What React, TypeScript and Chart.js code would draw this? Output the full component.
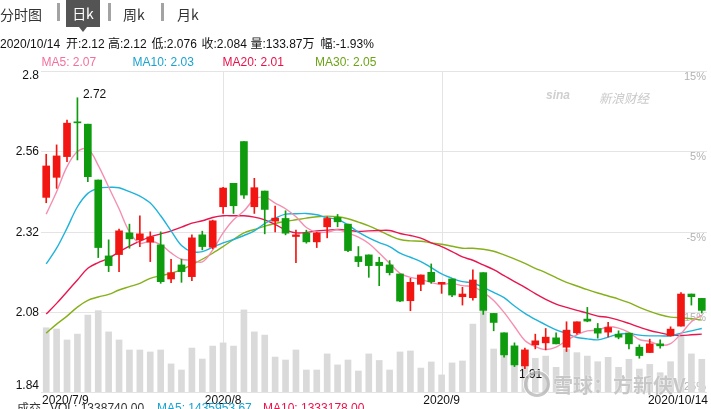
import React, { useEffect, useRef } from "react";
import { Chart, registerables } from "chart.js";

Chart.register(...registerables);

// ---------- data ----------
const dates: string[] = [
  "2020/7/9", "2020/7/10", "2020/7/13", "2020/7/14", "2020/7/15", "2020/7/16", "2020/7/17",
  "2020/7/20", "2020/7/21", "2020/7/22", "2020/7/23", "2020/7/24",
  "2020/7/27", "2020/7/28", "2020/7/29", "2020/7/30", "2020/7/31",
  "2020/8/3", "2020/8/4", "2020/8/5", "2020/8/6", "2020/8/7",
  "2020/8/10", "2020/8/11", "2020/8/12", "2020/8/13", "2020/8/14",
  "2020/8/17", "2020/8/18", "2020/8/19", "2020/8/20", "2020/8/21",
  "2020/8/24", "2020/8/25", "2020/8/26", "2020/8/27", "2020/8/28", "2020/8/31",
  "2020/9/1", "2020/9/2", "2020/9/3", "2020/9/4",
  "2020/9/7", "2020/9/8", "2020/9/9", "2020/9/10", "2020/9/11",
  "2020/9/14", "2020/9/15", "2020/9/16", "2020/9/17", "2020/9/18",
  "2020/9/21", "2020/9/22", "2020/9/23", "2020/9/24", "2020/9/25",
  "2020/9/28", "2020/9/29", "2020/9/30",
  "2020/10/9", "2020/10/12", "2020/10/13", "2020/10/14",
];

const opens: number[] = [
  2.422, 2.482, 2.544, 2.648, 2.641, 2.474, 2.247, 2.251,
  2.316, 2.295, 2.288, 2.280, 2.178, 2.220, 2.185, 2.310,
  2.273, 2.394, 2.464, 2.589, 2.394, 2.441, 2.351, 2.359,
  2.305, 2.315, 2.289, 2.334, 2.362, 2.342, 2.245, 2.250,
  2.228, 2.220, 2.193, 2.113, 2.162, 2.198, 2.163, 2.178,
  2.125, 2.122, 2.197, 2.075, 2.017, 1.978, 1.918, 1.981,
  1.987, 2.002, 1.974, 2.017, 2.058, 2.030, 2.019, 2.013,
  2.016, 1.974, 1.958, 1.984, 2.008, 2.037, 2.133, 2.120,
];

const highs: number[] = [
  2.551, 2.579, 2.653, 2.720, 2.641, 2.474, 2.295, 2.327,
  2.342, 2.367, 2.319, 2.319, 2.237, 2.237, 2.310, 2.321,
  2.354, 2.452, 2.464, 2.589, 2.479, 2.441, 2.396, 2.382,
  2.324, 2.324, 2.318, 2.364, 2.371, 2.342, 2.275, 2.250,
  2.243, 2.233, 2.193, 2.180, 2.190, 2.223, 2.168, 2.178,
  2.153, 2.205, 2.197, 2.075, 2.017, 1.987, 1.971, 2.013,
  2.030, 2.017, 2.050, 2.050, 2.093, 2.045, 2.048, 2.023,
  2.016, 1.981, 1.998, 1.996, 2.035, 2.137, 2.133, 2.120,
];

const lows: number[] = [
  2.406, 2.449, 2.529, 2.534, 2.469, 2.242, 2.200, 2.200,
  2.270, 2.275, 2.230, 2.165, 2.167, 2.168, 2.173, 2.265,
  2.268, 2.374, 2.374, 2.419, 2.374, 2.313, 2.319, 2.310,
  2.227, 2.285, 2.272, 2.301, 2.334, 2.260, 2.215, 2.183,
  2.158, 2.190, 2.110, 2.083, 2.143, 2.165, 2.135, 2.125,
  2.100, 2.115, 2.072, 2.023, 1.944, 1.916, 1.910, 1.969,
  1.966, 1.984, 1.961, 2.013, 2.050, 2.001, 2.005, 1.999,
  1.969, 1.941, 1.958, 1.971, 2.007, 2.037, 2.100, 2.076,
];

const closes: number[] = [
  2.516, 2.546, 2.644, 2.645, 2.484, 2.272, 2.218, 2.322,
  2.298, 2.313, 2.304, 2.170, 2.197, 2.200, 2.301, 2.275,
  2.352, 2.450, 2.397, 2.429, 2.451, 2.386, 2.360, 2.315,
  2.310, 2.289, 2.316, 2.359, 2.349, 2.263, 2.230, 2.218,
  2.218, 2.197, 2.112, 2.168, 2.190, 2.170, 2.168, 2.130,
  2.133, 2.175, 2.084, 2.048, 1.951, 1.921, 1.966, 1.993,
  2.004, 1.984, 2.025, 2.050, 2.052, 2.016, 2.033, 2.004,
  1.984, 1.949, 1.984, 1.978, 2.028, 2.133, 2.125, 2.084,
];

// volume in 万股
const volumes: number[] = [
  263, 258, 213, 237, 315, 333, 246, 213,
  172, 172, 164, 172, 115, 90, 180, 135,
  188, 201, 188, 336, 246, 233, 143, 131,
  172, 90, 90, 156, 111, 131, 86, 156,
  129, 90, 164, 168, 98, 123, 70, 119,
  127, 278, 332, 176, 151, 156, 134, 138,
  147, 101, 175, 161, 147, 124, 142, 101,
  134, 94, 113, 79, 124, 229, 156, 133.87,
];

const ma5: number[] = [
  2.372, 2.439, 2.514, 2.559, 2.567, 2.518, 2.453, 2.388,
  2.319, 2.285, 2.291, 2.281, 2.256, 2.237, 2.234, 2.229,
  2.265, 2.316, 2.355, 2.381, 2.416, 2.423, 2.405, 2.388,
  2.364, 2.332, 2.318, 2.318, 2.325, 2.315, 2.303, 2.284,
  2.256, 2.225, 2.195, 2.183, 2.177, 2.167, 2.162, 2.165,
  2.158, 2.155, 2.138, 2.114, 2.078, 2.036, 1.994, 1.976,
  1.967, 1.974, 1.994, 2.011, 2.023, 2.025, 2.035, 2.031,
  2.018, 1.997, 1.991, 1.980, 1.985, 2.014, 2.050, 2.070,
];

const ma10: number[] = [
  2.223, 2.270, 2.330, 2.394, 2.434, 2.449, 2.452, 2.451,
  2.439, 2.426, 2.405, 2.367, 2.322, 2.278, 2.260, 2.260,
  2.273, 2.286, 2.296, 2.308, 2.322, 2.344, 2.360, 2.372,
  2.373, 2.374, 2.370, 2.361, 2.356, 2.340, 2.318, 2.301,
  2.287, 2.275, 2.255, 2.243, 2.230, 2.212, 2.193, 2.180,
  2.170, 2.166, 2.153, 2.138, 2.122, 2.097, 2.075, 2.057,
  2.041, 2.026, 2.015, 2.003, 1.999, 1.996, 2.004, 2.013,
  2.015, 2.010, 2.008, 2.008, 2.008, 2.016, 2.023, 2.030,
];

const ma20: number[] = [
  2.073, 2.105, 2.140, 2.175, 2.210, 2.227, 2.240, 2.259,
  2.276, 2.291, 2.304, 2.313, 2.322, 2.333, 2.345, 2.352,
  2.362, 2.367, 2.367, 2.367, 2.363, 2.355, 2.341, 2.325,
  2.316, 2.317, 2.322, 2.324, 2.326, 2.324, 2.320, 2.322,
  2.323, 2.323, 2.314, 2.308, 2.300, 2.286, 2.275, 2.260,
  2.244, 2.234, 2.220, 2.206, 2.188, 2.170, 2.153, 2.134,
  2.117, 2.103, 2.093, 2.084, 2.076, 2.067, 2.063, 2.055,
  2.045, 2.034, 2.024, 2.017, 2.011, 2.009, 2.011, 2.013,
];

const ma30: number[] = [
  2.016, 2.043, 2.067, 2.094, 2.114, 2.124, 2.132, 2.145,
  2.155, 2.165, 2.180, 2.188, 2.195, 2.206, 2.221, 2.237,
  2.255, 2.275, 2.296, 2.316, 2.326, 2.336, 2.344, 2.350,
  2.355, 2.360, 2.364, 2.366, 2.364, 2.358, 2.348, 2.337,
  2.323, 2.308, 2.296, 2.292, 2.291, 2.286, 2.282, 2.276,
  2.270, 2.270, 2.267, 2.261, 2.250, 2.238, 2.225, 2.210,
  2.197, 2.182, 2.168, 2.157, 2.146, 2.136, 2.127, 2.118,
  2.107, 2.093, 2.081, 2.071, 2.064, 2.062, 2.059, 2.055,
];

const priceTicks: number[] = [2.8, 2.56, 2.32, 2.08, 1.84];
const priceTickLabels: string[] = ["2.8", "2.56", "2.32", "2.08", "1.84"];
const pctTickLabels: string[] = ["15%", "5%", "-5%", "-15%", "-25%"];
const monthLineDates: string[] = ["2020/8/3", "2020/9/1"];
const xLabelDates: string[] = ["2020/7/9", "2020/8/3", "2020/9/1", "2020/10/14"];
const xLabelTexts: string[] = ["2020/7/9", "2020/8", "2020/9", "2020/10/14"];
const volMax = 1314;

const infoItems: string[] = [
  "2020/10/14", "开:2.12", "高:2.12", "低:2.076", "收:2.084", "量:133.87万", "幅:-1.93%",
];
const infoX: number[] = [0, 66, 108, 151.5, 201.5, 250.5, 320.5];

const legendTexts: string[] = ["MA5: 2.07", "MA10: 2.03", "MA20: 2.01", "MA30: 2.05"];
const legendX: number[] = [41.5, 132.5, 222.5, 315];

const volLegendTexts: string[] = ["成交", "VOL: 1338740.00", "MA5: 1435953.67", "MA10: 1333178.00"];
const volLegendX: number[] = [17, 50, 157, 263];

// ---------- styles ----------
const UP = "#f21612";
const DOWN = "#0e9b0e";
const MA_COLORS = ["#f58fb0", "#1fb3da", "#e8164f", "#86b01a"];
const LEGEND_COLORS = ["#f3709c", "#1aa3cf", "#e8124a", "#6da316"];
const LATIN = "'Liberation Sans', Arial, 'Noto Sans CJK SC', sans-serif";
const CJK = "'Noto Sans CJK SC', 'Liberation Sans', sans-serif";

const decorPlugin = {
  id: "decor",
  beforeDatasetsDraw(chart: any) {
    const { ctx, chartArea: a, scales } = chart;
    const y = scales.y;
    const x = scales.x;
    ctx.save();
    ctx.strokeStyle = "#e4e4e4";
    ctx.lineWidth = 1;
    priceTicks.forEach((v) => {
      const py = Math.round(y.getPixelForValue(v)) + 0.5;
      ctx.beginPath();
      ctx.moveTo(a.left, py);
      ctx.lineTo(a.right, py);
      ctx.stroke();
    });
    monthLineDates.forEach((d) => {
      const px = Math.round(x.getPixelForValue(dates.indexOf(d))) + 0.5;
      ctx.beginPath();
      ctx.moveTo(px, a.top);
      ctx.lineTo(px, a.bottom);
      ctx.stroke();
    });
    // percentage labels on the right (behind marks)
    ctx.font = "11px " + LATIN;
    ctx.fillStyle = "#b2b2b2";
    ctx.textAlign = "right";
    ctx.textBaseline = "alphabetic";
    priceTicks.forEach((v, k) => {
      const py = y.getPixelForValue(v);
      const last = k === priceTicks.length - 1;
      ctx.fillText(pctTickLabels[k], a.right - 1, last ? py - 2 : py + 9);
    });
    ctx.restore();
  },
  afterDatasetsDraw(chart: any) {
    const { ctx, chartArea: a, scales } = chart;
    const y = scales.y;
    const x = scales.x;
    ctx.save();
    ctx.font = "12px " + LATIN;
    ctx.fillStyle = "#111";
    ctx.textBaseline = "alphabetic";
    // y labels
    ctx.textAlign = "right";
    priceTicks.forEach((v, k) => {
      const py = y.getPixelForValue(v);
      let by = py + 4;
      if (k === 0) by = py + 8;
      if (k === priceTicks.length - 1) by = py - 3;
      ctx.fillText(priceTickLabels[k], 39, by);
    });
    // x labels
    xLabelDates.forEach((d, k) => {
      const px = x.getPixelForValue(dates.indexOf(d));
      if (k === 0) {
        ctx.textAlign = "left";
        ctx.fillText(xLabelTexts[k], a.left + 1, a.bottom + 12);
      } else if (k === xLabelDates.length - 1) {
        ctx.textAlign = "right";
        ctx.fillText(xLabelTexts[k], a.right + 1, a.bottom + 12);
      } else {
        ctx.textAlign = "center";
        ctx.fillText(xLabelTexts[k], px, a.bottom + 12);
      }
    });
    // max / min annotations
    let hi = 0;
    let lo = 0;
    highs.forEach((v, i) => { if (v > highs[hi]) hi = i; });
    lows.forEach((v, i) => { if (v < lows[lo]) lo = i; });
    ctx.textAlign = "left";
    ctx.fillText(highs[hi].toFixed(2), x.getPixelForValue(hi) + 5.5, y.getPixelForValue(highs[hi]));
    ctx.fillText(lows[lo].toFixed(2), x.getPixelForValue(lo) - 6, y.getPixelForValue(lows[lo]) + 9.5);
    ctx.restore();
  },
};

export default function App() {
  const ref = useRef<HTMLCanvasElement | null>(null);

  useEffect(() => {
    const canvas = ref.current;
    if (!canvas) return;
    const colors = closes.map((c, i) => (c >= opens[i] ? UP : DOWN));
    const maSets = [ma5, ma10, ma20, ma30].map((arr, k) => ({
      type: "line" as const,
      label: ["MA5", "MA10", "MA20", "MA30"][k],
      data: arr,
      borderColor: MA_COLORS[k],
      borderWidth: 1.4,
      pointRadius: 0,
      tension: 0.35,
      fill: false,
      yAxisID: "y",
      order: 2 + k,
    }));
    const chart = new Chart(canvas, {
      type: "bar",
      data: {
        labels: dates,
        datasets: [
          {
            type: "bar",
            label: "body",
            data: opens.map((o, i) => [o, closes[i]]) as any,
            backgroundColor: colors,
            borderWidth: 0,
            barThickness: 7,
            grouped: false,
            minBarLength: 1,
            yAxisID: "y",
            order: 0,
          } as any,
          {
            type: "bar",
            label: "wick",
            data: lows.map((l, i) => [l, highs[i]]) as any,
            backgroundColor: colors,
            borderWidth: 0,
            barThickness: 1,
            grouped: false,
            yAxisID: "y",
            order: 1,
          } as any,
          ...(maSets as any[]),
          {
            type: "bar",
            label: "vol",
            data: volumes,
            backgroundColor: "#dadada",
            borderWidth: 0,
            barThickness: 6,
            grouped: false,
            yAxisID: "yv",
            order: 10,
          } as any,
        ],
      },
      options: {
        responsive: false,
        animation: false,
        devicePixelRatio: 1,
        events: [],
        layout: { padding: { left: 41, right: 4, top: 71, bottom: 17 } },
        scales: {
          x: { display: false, offset: true },
          y: { display: false, min: 1.84, max: 2.8 },
          yv: { display: false, min: 0, max: volMax },
        },
        plugins: { legend: { display: false }, tooltip: { enabled: false } },
      } as any,
      plugins: [decorPlugin],
    });
    return () => chart.destroy();
  }, []);

  const abs = (left: number, top: number, extra: any = {}) => ({
    position: "absolute" as const,
    left,
    top,
    whiteSpace: "nowrap" as const,
    ...extra,
  });

  return (
    <div
      style={{
        position: "fixed",
        left: 0,
        top: 0,
        width: 711,
        height: 409,
        overflow: "hidden",
        background: "#fff",
        fontFamily: LATIN,
      }}
    >
      <canvas ref={ref} width={711} height={409} style={{ position: "absolute", left: 0, top: 0, width: 711, height: 409 }} />

      {/* tabs */}
      <div style={abs(0, 6, { fontFamily: CJK, fontSize: 14, lineHeight: "16px", color: "#333" })}>分时图</div>
      <div style={abs(57, 3, { width: 3, height: 18, background: "#a3a3a3" })} />
      <div style={abs(66, 0, { width: 34, height: 27, background: "#545454" })} />
      <div
        style={abs(79, 27, {
          width: 0,
          height: 0,
          borderLeft: "4px solid transparent",
          borderRight: "4px solid transparent",
          borderTop: "5px solid #545454",
        })}
      />
      <div style={abs(66, 5, { width: 34, textAlign: "center", fontFamily: CJK, fontSize: 14, lineHeight: "16px", color: "#fff" })}>日k</div>
      <div style={abs(108, 3, { width: 3, height: 18, background: "#a3a3a3" })} />
      <div style={abs(123, 6, { fontFamily: CJK, fontSize: 14, lineHeight: "16px", color: "#333" })}>周k</div>
      <div style={abs(161, 3, { width: 3, height: 18, background: "#a3a3a3" })} />
      <div style={abs(177, 6, { fontFamily: CJK, fontSize: 14, lineHeight: "16px", color: "#333" })}>月k</div>

      {/* info line */}
      {infoItems.map((t, i) => (
        <div key={"i" + i} style={abs(infoX[i], 37, { fontSize: 12, lineHeight: "14px", color: "#111" })}>{t}</div>
      ))}

      {/* MA legend */}
      {legendTexts.map((t, i) => (
        <div key={"l" + i} style={abs(legendX[i], 55, { fontSize: 12, lineHeight: "14px", color: LEGEND_COLORS[i] })}>{t}</div>
      ))}

      {/* watermarks */}
      <div style={abs(546, 88, { fontSize: 12, fontStyle: "italic", fontWeight: "bold", color: "#cfcfcf", lineHeight: "14px" })}>sina</div>
      <div style={abs(599, 90, { fontFamily: CJK, fontSize: 12.5, fontStyle: "italic", color: "#c9c9c9", lineHeight: "15px" })}>新浪财经</div>
      <div
        style={abs(524, 371, {
          width: 20,
          height: 20,
          borderRadius: "50%",
          border: "3px solid rgba(180,180,180,0.75)",
          boxShadow: "0 0 0 1px rgba(255,255,255,0.8)",
        })}
      />
      <div
        style={abs(553, 374, {
          fontFamily: CJK,
          fontSize: 20,
          fontWeight: "bold",
          lineHeight: "22px",
          color: "rgba(175,175,175,0.7)",
          textShadow: "0 0 1px #fff, 0 0 1px #fff",
        })}
      >
        雪球：方新侠V
      </div>

      {/* volume legend (cut off at the bottom) */}
      {volLegendTexts.map((t, i) => (
        <div
          key={"v" + i}
          style={abs(volLegendX[i], 401, {
            fontSize: 12,
            lineHeight: "14px",
            color: i < 2 ? "#333" : LEGEND_COLORS[i - 1],
            fontFamily: i === 0 ? CJK : LATIN,
          })}
        >
          {t}
        </div>
      ))}
    </div>
  );
}
